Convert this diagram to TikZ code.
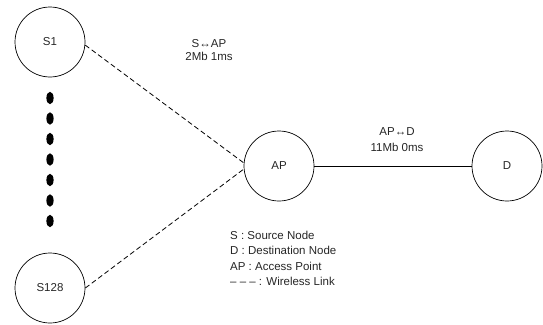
\documentclass[tikz,border=0pt]{standalone}
\usepackage{fontspec}
\setmainfont{Liberation Sans}
\begin{document}
\begin{tikzpicture}[x=1pt,y=-1pt,
  station/.style={draw,circle,minimum size=70pt,inner sep=0pt,line width=0.7pt,text=black!85,font=\fontsize{11.5}{13}\selectfont},
  wireless/.style={line width=0.8pt,dash pattern=on 5pt off 3pt},
  wired/.style={line width=0.8pt},
  lbl/.style={align=center,text=black!85,inner sep=0pt},
  legend/.style={align=left,anchor=north west,text=black!85,font=\fontsize{11.5}{15.3}\selectfont,inner sep=0pt}]
\useasboundingbox (0,0) rectangle (543,324);
\node[station] (S1) at (50,42) {S1};
\node[station] (S128) at (50,288) {S128};
\node[station] (AP) at (279,166) {AP};
\node[station] (D) at (507,166) {D};
\foreach \y in {98,118.5,139,159.5,180,200.5,221}
  \fill (50,\y) ellipse (3.6pt and 6.2pt);
\draw[wireless] (S1.-5) -- (AP.175);
\draw[wireless] (S128.east) -- (AP.185);
\draw[wired] (AP) -- (D);
\node[lbl,font=\fontsize{11.5}{13}\selectfont] (l1) at (209,50.5) {S↔AP\\2Mb 1ms};
\node[lbl,font=\fontsize{11.5}{16}\selectfont] (l2) at (397,139.5) {AP↔D\\11Mb 0ms};
\node[legend] (lg) at (230,231) {S : Source Node\\D : Destination Node\\AP : Access Point\\– – – : Wireless Link};
\end{tikzpicture}
\end{document}
